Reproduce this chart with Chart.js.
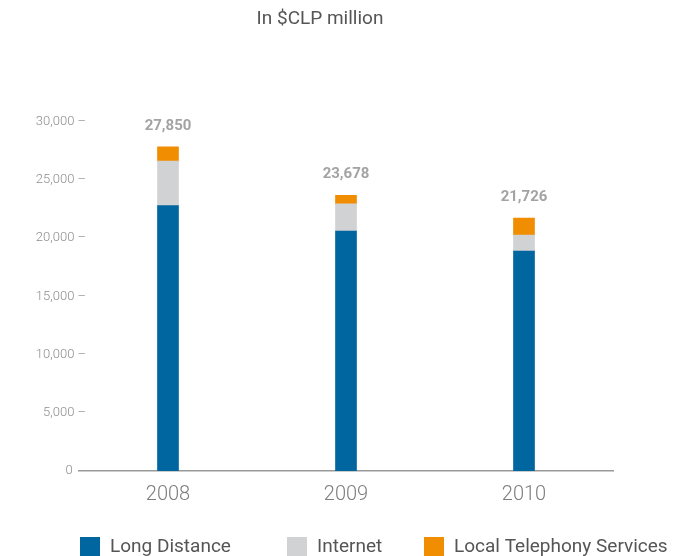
<!DOCTYPE html>
<html>
<head>
<meta charset="utf-8">
<script src="https://cdn.jsdelivr.net/npm/chart.js@4/dist/chart.umd.min.js"></script>
<style>
  html, body { margin: 0; padding: 0; background: #ffffff; overflow: hidden; }
  #wrap { width: 676px; height: 556px; }
</style>
</head>
<body>
<div id="wrap"><canvas id="chart" width="676" height="556"></canvas></div>
<script>
// Revenue by business line, in $CLP million
const years = ['2008', '2009', '2010'];
const longDistance = [22800, 20610, 18890];
const internet = [3830, 2335, 1372];
const localTelephony = [1220, 733, 1464];
const totals = [27850, 23678, 21726];
const yTicks = [0, 5000, 10000, 15000, 20000, 25000, 30000];

const seriesNames = ['Long Distance', 'Internet', 'Local Telephony Services'];
const seriesColors = ['#00669f', '#d1d2d4', '#f18d00'];

const fmt = v => v.toLocaleString('en-US');

// Let the y tick labels (with their trailing dash) reach slightly into the plot area
const unclipTicks = {
  id: 'unclipTicks',
  beforeDraw(chart) {
    chart.scales.y._computeLabelArea = () => undefined;
  }
};

// Totals printed above each stacked column
const totalLabels = {
  id: 'totalLabels',
  afterDatasetsDraw(chart) {
    const { ctx, scales } = chart;
    ctx.save();
    ctx.font = 'bold 15px Roboto';
    ctx.fillStyle = '#a3a3a3';
    ctx.textAlign = 'center';
    ctx.textBaseline = 'middle';
    totals.forEach((t, i) => {
      const x = scales.x.getPixelForValue(i);
      const y = scales.y.getPixelForValue(t);
      ctx.fillText(fmt(t), x, y - 21);
    });
    ctx.restore();
  }
};

// Legend row along the bottom edge
const bottomLegend = {
  id: 'bottomLegend',
  afterDraw(chart) {
    const { ctx } = chart;
    const starts = [80, 287, 424];
    const top = 537, size = 20;
    ctx.save();
    ctx.font = '19px Roboto';
    ctx.textBaseline = 'middle';
    chart.data.datasets.forEach((ds, i) => {
      ctx.fillStyle = ds.backgroundColor;
      ctx.fillRect(starts[i], top, size, size);
      ctx.fillStyle = '#555555';
      ctx.textAlign = 'left';
      ctx.fillText(ds.label, starts[i] + 30, top + 10);
    });
    ctx.restore();
  }
};

new Chart(document.getElementById('chart'), {
  type: 'bar',
  data: {
    labels: years,
    datasets: [
      { label: seriesNames[0], data: longDistance, backgroundColor: seriesColors[0] },
      { label: seriesNames[1], data: internet, backgroundColor: seriesColors[1] },
      { label: seriesNames[2], data: localTelephony, backgroundColor: seriesColors[2] }
    ]
  },
  options: {
    responsive: false,
    animation: false,
    layout: { padding: { left: 27, right: 63, top: 0, bottom: 37 } },
    datasets: { bar: { barThickness: 21 } },
    plugins: {
      legend: { display: false },
      tooltip: { enabled: false },
      title: {
        display: true,
        text: 'In $CLP million',
        color: '#555555',
        font: { family: 'Roboto', size: 19, weight: '400' },
        padding: { top: 8, bottom: 91 }
      }
    },
    scales: {
      x: {
        stacked: true,
        grid: { display: false, drawTicks: false },
        border: { display: true, color: '#9a9a9a', width: 1.5 },
        ticks: {
          color: '#7d7d7d',
          font: { family: 'Roboto', size: 20, weight: '300' },
          padding: 12
        }
      },
      y: {
        stacked: true,
        min: 0,
        max: 30000,
        afterBuildTicks(scale) { scale.ticks = yTicks.map(v => ({ value: v })); },
        afterFit(scale) { scale.width = 52; },
        grid: { display: false, drawTicks: false },
        border: { display: false },
        ticks: {
          color: '#8e8e8e',
          font: { family: 'Roboto', size: 13, weight: '300' },
          padding: -7,
          callback: v => v === 0 ? '0\u2003' : fmt(v) + ' \u2013'
        }
      }
    }
  },
  plugins: [unclipTicks, totalLabels, bottomLegend]
});
</script>
</body>
</html>
